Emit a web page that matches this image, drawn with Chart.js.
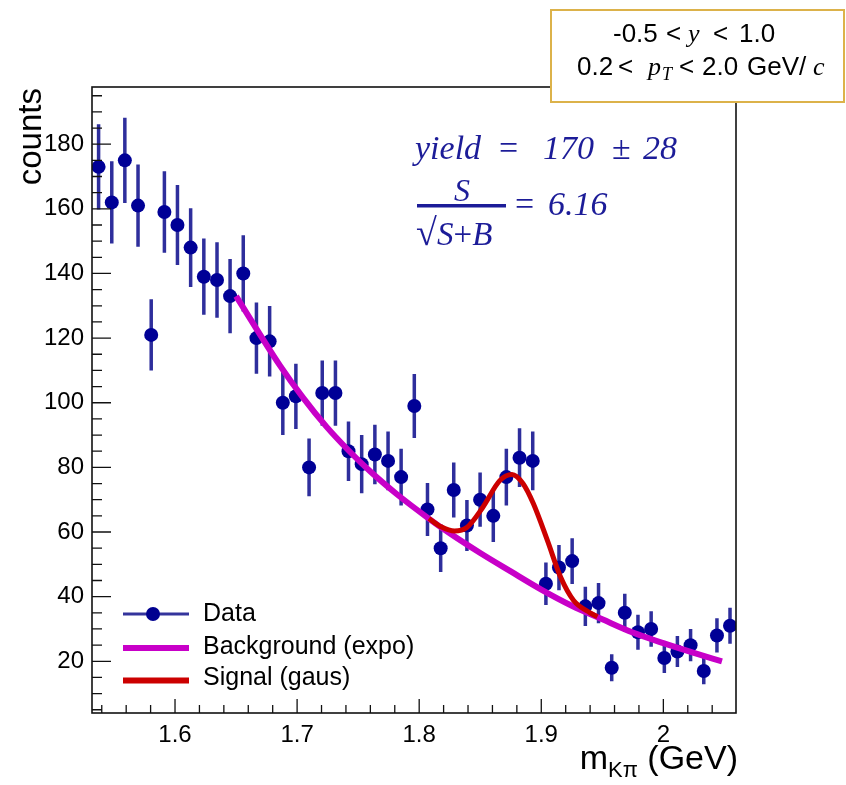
<!DOCTYPE html>
<html>
<head>
<meta charset="utf-8">
<script src="https://cdn.jsdelivr.net/npm/chart.js@4.4.1/dist/chart.umd.min.js"></script>
<style>
html,body{margin:0;padding:0;background:#fff;}
#wrap{position:relative;width:846px;height:785px;overflow:hidden;}
#c{position:absolute;left:0;top:0;}
#ov{position:absolute;left:0;top:0;pointer-events:none;}
</style>
</head>
<body>
<div id="wrap">
<canvas id="c" width="846" height="785"></canvas>
<svg id="ov" width="846" height="785" xmlns="http://www.w3.org/2000/svg" font-family="Liberation Sans, Arial, sans-serif">
  <!-- axis titles -->
  <text transform="translate(41,88) rotate(-90)" text-anchor="end" font-size="33" fill="#000">counts</text>
  <text x="738" y="769" text-anchor="end" font-size="34" fill="#000">m<tspan font-size="22" dy="8">Kπ</tspan><tspan dy="-8"> (GeV)</tspan></text>

  <!-- selection box -->
  <rect x="551" y="10" width="293" height="92" fill="#fff" stroke="#dcb24a" stroke-width="2"/>
  <g font-size="26" fill="#000">
    <text x="613" y="42">-0.5</text>
    <text x="666" y="42">&lt;</text>
    <text x="688" y="42" font-family="Liberation Serif, serif" font-style="italic">y</text>
    <text x="713" y="42">&lt;</text>
    <text x="739" y="42">1.0</text>
    <text x="577" y="75">0.2</text>
    <text x="618" y="75">&lt;</text>
    <text x="648" y="75" font-family="Liberation Serif, serif" font-style="italic">p</text>
    <text x="662" y="80" font-size="18" font-family="Liberation Serif, serif" font-style="italic">T</text>
    <text x="679" y="75">&lt;</text>
    <text x="702" y="75">2.0</text>
    <text x="747" y="75">GeV/</text>
    <text x="813" y="75" font-family="Liberation Serif, serif" font-style="italic">c</text>
  </g>

  <!-- yield annotation -->
  <g fill="#1c1c98" font-family="Liberation Serif, serif" font-style="italic" font-size="34">
    <text x="415" y="159">yield</text>
    <text x="499" y="159" font-style="normal">=</text>
    <text x="543" y="159">170</text>
    <text x="612" y="159" font-style="normal">±</text>
    <text x="643" y="159">28</text>
    <text x="462" y="201" text-anchor="middle" font-size="32">S</text>
    <rect x="417" y="204" width="89" height="3.5"/>
    <text x="416" y="245" font-style="normal" font-size="38">√</text>
    <text x="437" y="245" font-size="33">S<tspan font-style="normal">+</tspan>B</text>
    <text x="515" y="215" font-style="normal">=</text>
    <text x="548" y="215">6.16</text>
  </g>

  <!-- legend -->
  <line x1="123" y1="614" x2="189" y2="614" stroke="#34349c" stroke-width="3"/>
  <circle cx="153" cy="614" r="7" fill="#000090"/>
  <line x1="123" y1="648" x2="189" y2="648" stroke="#c800c8" stroke-width="6"/>
  <line x1="123" y1="680.5" x2="189" y2="680.5" stroke="#cc0000" stroke-width="6"/>
  <g font-size="25" fill="#000">
    <text x="203" y="621">Data</text>
    <text x="203" y="653.5">Background (expo)</text>
    <text x="203" y="684.5">Signal (gaus)</text>
  </g>
</svg>
</div>
<script>
// ---- data ----
const massBins = [1.5374, 1.5482, 1.5589, 1.5697, 1.5805, 1.5913, 1.6020, 1.6128, 1.6236, 1.6344,
                  1.6451, 1.6559, 1.6667, 1.6775, 1.6883, 1.6990, 1.7098, 1.7206, 1.7314, 1.7421,
                  1.7529, 1.7637, 1.7745, 1.7852, 1.7960, 1.8068, 1.8176, 1.8283, 1.8391, 1.8499,
                  1.8607, 1.8714, 1.8822, 1.8930, 1.9038, 1.9145, 1.9253, 1.9361, 1.9469, 1.9577,
                  1.9684, 1.9792, 1.9900, 2.0008, 2.0115, 2.0223, 2.0331, 2.0439, 2.0546];
const counts = [173, 162, 175, 161, 121, 159, 155, 148, 139, 138,
                133, 140, 120, 119, 100, 102, 80, 103, 103, 85,
                81, 84, 82, 77, 99, 67, 55, 73, 62, 70,
                65, 77, 83, 82, 44, 49, 51, 37, 38, 18,
                35, 29, 30, 21, 23, 25, 17, 28, 31];
const countErrors = [13.2, 12.7, 13.2, 12.7, 11.0, 12.6, 12.4, 12.2, 11.8, 11.7,
                     11.5, 11.8, 11.0, 10.9, 10.0, 10.1, 8.9, 10.1, 10.1, 9.2,
                     9.0, 9.2, 9.1, 8.8, 9.9, 8.2, 7.4, 8.5, 7.9, 8.4,
                     8.1, 8.8, 9.1, 9.1, 6.6, 7.0, 7.1, 6.1, 6.2, 4.2,
                     5.9, 5.4, 5.5, 4.6, 4.8, 5.0, 4.1, 5.3, 5.6];
const bgFitX = [1.650, 1.686, 1.705, 1.724, 1.742, 1.760, 1.782, 1.807, 1.825, 1.850, 1.875, 1.900, 1.925, 1.950, 1.975, 2.000, 2.025, 2.048];
const bgFitY = [133.0, 111.5, 101.5, 92.6, 85.3, 78.7, 71.6, 64.4, 59.6, 53.5, 47.8, 42.2, 37.2, 33.0, 28.9, 25.6, 22.6, 20.0];
const sigFitX = [1.808, 1.818, 1.829, 1.839, 1.852, 1.866, 1.876, 1.885, 1.8935, 1.905, 1.916, 1.9265, 1.940, 1.946];
const sigFitY = [64.2, 61.6, 60.3, 61.4, 67.6, 75.9, 77.8, 75.0, 68.8, 57.4, 45.9, 38.8, 35.0, 33.8];
const xTickValues = [1.6, 1.7, 1.8, 1.9, 2.0];
const yTickValues = [20, 40, 60, 80, 100, 120, 140, 160, 180];
const xMinorStep = 0.02;
const yMinorStep = 5;

Chart.defaults.font.family = "'Liberation Sans', Arial, sans-serif";
Chart.defaults.color = '#000';

const errorBarPlugin = {
  id: 'errorBars',
  beforeDatasetsDraw(chart) {
    const ctx = chart.ctx, x = chart.scales.x, y = chart.scales.y;
    ctx.save();
    ctx.strokeStyle = '#2e2e9c';
    ctx.lineWidth = 3.5;
    ctx.beginPath();
    massBins.forEach((m, i) => {
      const px = x.getPixelForValue(m);
      ctx.moveTo(px, y.getPixelForValue(counts[i] - countErrors[i]));
      ctx.lineTo(px, y.getPixelForValue(counts[i] + countErrors[i]));
    });
    ctx.stroke();
    ctx.restore();
  }
};

const framePlugin = {
  id: 'frame',
  afterDraw(chart) {
    const ctx = chart.ctx, a = chart.chartArea, x = chart.scales.x, y = chart.scales.y;
    ctx.save();
    ctx.strokeStyle = '#111';
    ctx.lineWidth = 1.6;
    ctx.strokeRect(a.left, a.top, a.right - a.left, a.bottom - a.top);
    ctx.lineWidth = 1.3;
    ctx.beginPath();
    // x ticks (inward, bottom)
    for (let k = 0; ; k++) {
      const v = 1.54 + k * xMinorStep;
      if (v > x.max + 1e-9) break;
      const px = x.getPixelForValue(v);
      const major = xTickValues.some(t => Math.abs(t - v) < 1e-6);
      ctx.moveTo(px, a.bottom);
      ctx.lineTo(px, a.bottom - (major ? 14 : 8));
    }
    // y ticks (inward, left)
    for (let v = yMinorStep; v < y.max; v += yMinorStep) {
      if (v < y.min) continue;
      const py = y.getPixelForValue(v);
      const major = yTickValues.includes(v);
      ctx.moveTo(a.left, py);
      ctx.lineTo(a.left + (major ? 19 : 10), py);
    }
    ctx.stroke();
    ctx.restore();
  }
};

new Chart(document.getElementById('c'), {
  type: 'scatter',
  data: {
    datasets: [
      {
        label: 'Data',
        data: massBins.map((m, i) => ({ x: m, y: counts[i] })),
        pointRadius: 7,
        pointBackgroundColor: '#000096',
        pointBorderWidth: 0,
        showLine: false,
        order: 3
      },
      {
        label: 'Background (expo)',
        type: 'line',
        data: bgFitX.map((v, i) => ({ x: v, y: bgFitY[i] })),
        borderColor: '#c800c8',
        borderWidth: 6,
        pointRadius: 0,
        fill: false,
        cubicInterpolationMode: 'monotone',
        order: 2
      },
      {
        label: 'Signal (gaus)',
        type: 'line',
        data: sigFitX.map((v, i) => ({ x: v, y: sigFitY[i] })),
        borderColor: '#cc0000',
        borderWidth: 5,
        pointRadius: 0,
        fill: false,
        cubicInterpolationMode: 'monotone',
        order: 1
      }
    ]
  },
  options: {
    responsive: false,
    animation: false,
    devicePixelRatio: 1,
    layout: { padding: { top: 87, right: 110, left: 0, bottom: 0 } },
    plugins: { legend: { display: false }, tooltip: { enabled: false } },
    scales: {
      x: {
        type: 'linear',
        min: 1.532,
        max: 2.0595,
        grid: { display: false, drawTicks: false },
        border: { display: false },
        afterBuildTicks: s => { s.ticks = xTickValues.map(v => ({ value: v })); },
        afterFit: s => { s.height = 72; },
        ticks: {
          padding: 8,
          autoSkip: false,
          maxRotation: 0,
          font: { size: 24 },
          color: '#000',
          callback: v => String(+Number(v).toFixed(1))
        }
      },
      y: {
        type: 'linear',
        min: 4,
        max: 197.7,
        grid: { display: false, drawTicks: false },
        border: { display: false },
        afterBuildTicks: s => { s.ticks = yTickValues.map(v => ({ value: v })); },
        afterFit: s => { s.width = 92; },
        ticks: {
          padding: 8,
          autoSkip: false,
          font: { size: 24 },
          color: '#000'
        }
      }
    }
  },
  plugins: [errorBarPlugin, framePlugin]
});
</script>
</body>
</html>
